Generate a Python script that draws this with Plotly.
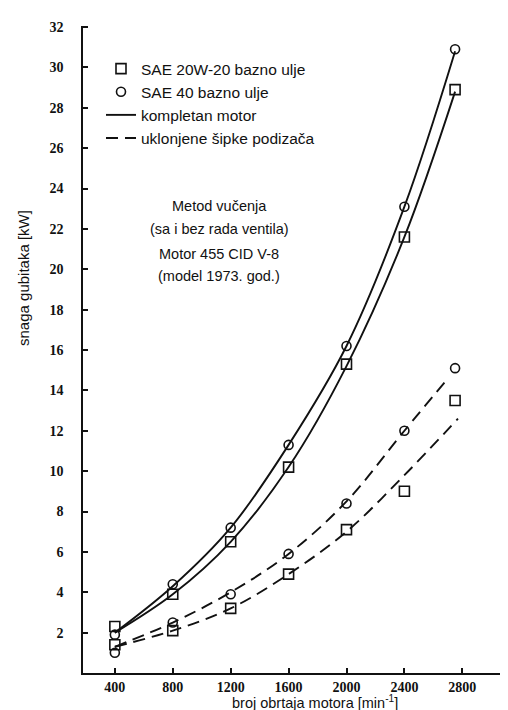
import plotly.graph_objects as go

# --- data ---
rpm = [400, 800, 1200, 1600, 2000, 2400, 2750]
x_ticks = [400, 800, 1200, 1600, 2000, 2400, 2800]
y_ticks = list(range(2, 33, 2))

# measured points (kompletan motor)
sae20_full = [2.3, 3.9, 6.5, 10.2, 15.3, 21.6, 28.9]
sae40_full = [1.9, 4.4, 7.2, 11.3, 16.2, 23.1, 30.9]
# measured points (uklonjene šipke podizača)
sae20_rem = [1.4, 2.1, 3.2, 4.9, 7.1, 9.0, 13.5]
sae40_rem = [1.0, 2.5, 3.9, 5.9, 8.4, 12.0, 15.1]

# drawn curves
curve_rpm_full = [400, 800, 1200, 1600, 2000, 2400, 2750]
curve_sae40_full = [2.0, 4.3, 7.2, 11.3, 16.2, 23.1, 30.8]
curve_sae20_full = [2.0, 3.9, 6.5, 10.2, 15.2, 21.6, 28.8]
curve_rpm_rem40 = [400, 800, 1200, 1600, 2000, 2400, 2690]
curve_sae40_rem = [1.3, 2.5, 4.0, 5.9, 8.5, 12.0, 14.5]
curve_rpm_rem20 = [400, 800, 1200, 1600, 2000, 2400, 2770]
curve_sae20_rem = [1.3, 2.1, 3.2, 4.9, 7.0, 9.8, 12.6]

labels = ["SAE 20W-20 bazno ulje", "SAE 40 bazno ulje",
          "kompletan motor", "uklonjene šipke podizača"]

BLACK = "#111111"
DASH = "12px,7px"

fig = go.Figure()

# curves
fig.add_trace(go.Scatter(x=curve_rpm_full, y=curve_sae40_full, mode="lines",
                         line=dict(color=BLACK, width=1.9, shape="spline"), showlegend=False))
fig.add_trace(go.Scatter(x=curve_rpm_full, y=curve_sae20_full, mode="lines",
                         line=dict(color=BLACK, width=1.9, shape="spline"), showlegend=False))
fig.add_trace(go.Scatter(x=curve_rpm_rem40, y=curve_sae40_rem, mode="lines",
                         line=dict(color=BLACK, width=1.9, shape="spline", dash=DASH), showlegend=False))
fig.add_trace(go.Scatter(x=curve_rpm_rem20, y=curve_sae20_rem, mode="lines",
                         line=dict(color=BLACK, width=1.9, shape="spline", dash=DASH), showlegend=False))

sq = dict(symbol="square-open", size=10, color=BLACK, line=dict(width=1.6, color=BLACK))
ci = dict(symbol="circle-open", size=9, color=BLACK, line=dict(width=1.6, color=BLACK))

for ys in (sae20_full, sae20_rem):
    fig.add_trace(go.Scatter(x=rpm, y=ys, mode="markers", marker=sq, showlegend=False))
for ys in (sae40_full, sae40_rem):
    fig.add_trace(go.Scatter(x=rpm, y=ys, mode="markers", marker=ci, showlegend=False))

# legend entries
fig.add_trace(go.Scatter(x=[None], y=[None], mode="markers", marker=sq, name=labels[0]))
fig.add_trace(go.Scatter(x=[None], y=[None], mode="markers", marker=ci, name=labels[1]))
fig.add_trace(go.Scatter(x=[None], y=[None], mode="lines", line=dict(color=BLACK, width=1.9),
                         name=labels[2]))
fig.add_trace(go.Scatter(x=[None], y=[None], mode="lines", line=dict(color=BLACK, width=1.9, dash=DASH),
                         name=labels[3]))

W, H = 508, 710
ml, mr, mt, mb = 75, 3, 18, 45
pw, ph = W - ml - mr, H - mt - mb

def px_x(p):
    return (p - ml) / pw

def px_y(p):
    return (H - mb - p) / ph

tickfont = dict(family="Liberation Serif", size=14, color=BLACK, weight="bold")

fig.update_layout(
    width=W, height=H,
    margin=dict(l=ml, r=mr, t=mt, b=mb),
    paper_bgcolor="white", plot_bgcolor="white",
    font=dict(family="Liberation Sans", size=14, color=BLACK),
    legend=dict(x=px_x(93), y=px_y(44), xanchor="left", yanchor="top",
                bgcolor="rgba(0,0,0,0)", font=dict(size=15.5, color=BLACK)),
    xaxis=dict(range=[180, 3150], tickvals=x_ticks, ticks="inside", ticklen=5, tickwidth=1.5,
               tickcolor=BLACK, showline=True, linecolor=BLACK, linewidth=1.6,
               showgrid=False, zeroline=False, tickfont=tickfont, ticklabelstandoff=0),
    yaxis=dict(range=[0, 32.05], tickvals=y_ticks, ticks="inside", ticklen=5, tickwidth=1.5,
               tickcolor=BLACK, showline=True, linecolor=BLACK, linewidth=1.6,
               showgrid=False, zeroline=False, tickfont=tickfont, ticklabelstandoff=15),
)

ann = [
    ("Metod vučenja", 198),
    ("(sa i bez rada ventila)", 221),
    ("Motor 455 CID V-8", 246),
    ("(model 1973. god.)", 268),
]
for t, yp in ann:
    fig.add_annotation(text=t, x=px_x(211), y=px_y(yp), xref="paper", yref="paper",
                       showarrow=False, xanchor="center", yanchor="middle",
                       font=dict(size=14.5, color=BLACK))

fig.add_annotation(text="snaga gubitaka [kW]", x=px_x(15), y=px_y(270), xref="paper", yref="paper",
                   showarrow=False, textangle=-90, xanchor="center", yanchor="middle",
                   font=dict(size=15, color=BLACK))
fig.add_annotation(text="broj obrtaja motora [min<sup>-1</sup>]", x=px_x(307), y=px_y(694),
                   xref="paper", yref="paper", showarrow=False, xanchor="center", yanchor="middle",
                   font=dict(size=14.5, color=BLACK))

fig.write_html("out.html")
